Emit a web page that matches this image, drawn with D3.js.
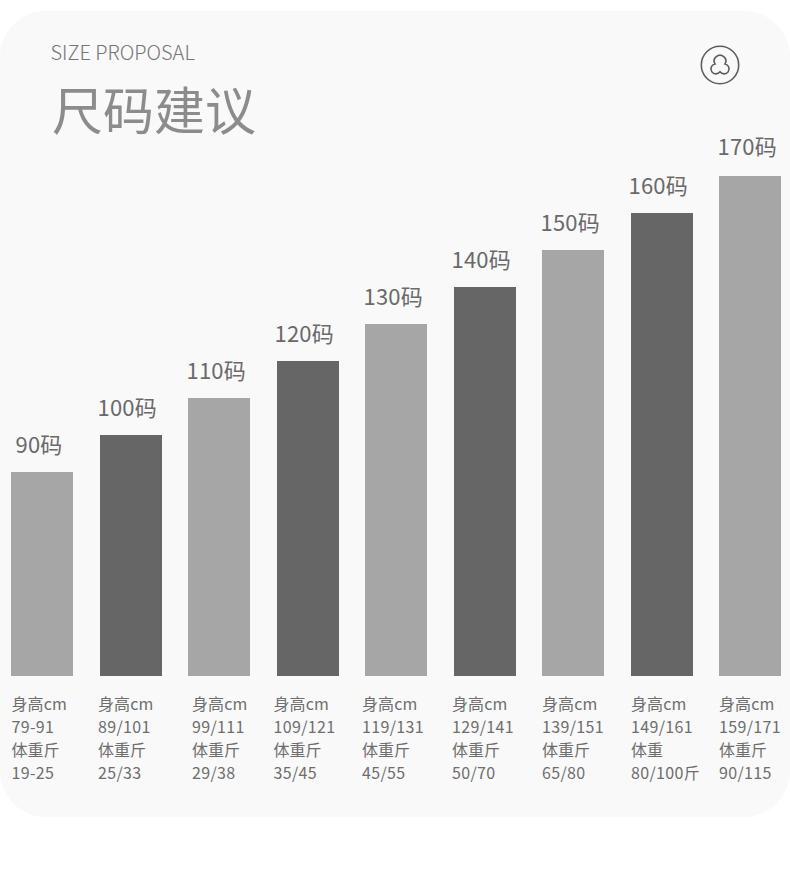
<!DOCTYPE html>
<html><head><meta charset="utf-8">
<script src="https://cdn.jsdelivr.net/npm/d3@7"></script>
<style>html,body{margin:0;padding:0;background:#fff}svg{display:block}text{font-family:"Noto Sans CJK SC","Noto Sans",sans-serif}</style>
</head><body><svg id="c" width="790" height="894"></svg>
<script>
const sizes=[90,100,110,120,130,140,150,160,170];
const sizeLabels=["90码","100码","110码","120码","130码","140码","150码","160码","170码"];
const heightLabel=["身高cm","身高cm","身高cm","身高cm","身高cm","身高cm","身高cm","身高cm","身高cm"];
const heightRanges=["79-91","89/101","99/111","109/121","119/131","129/141","139/151","149/161","159/171"];
const weightLabel=["体重斤","体重斤","体重斤","体重斤","体重斤","体重斤","体重斤","体重","体重斤"];
const weightRanges=["19-25","25/33","29/38","35/45","45/55","50/70","65/80","80/100斤","90/115"];
const barShade=["light","dark","light","dark","light","dark","light","dark","light"];
const labelLeft=[15.5,97.5,186.5,274.5,363.5,451.5,540.5,628.5,717.5];
const labelGap=[19,19,19,19,19,19,19,19,21];
const detailLeft=[11.5,98,192,273.5,362,452,542,631,719];

const svg=d3.select("#c");
svg.append("rect").attr("x",0).attr("y",11).attr("width",790).attr("height",806).attr("rx",46).attr("fill","#f9f9f9");

const x=d3.scaleBand().domain(sizes).range([11,781]).paddingInner(0.2995).paddingOuter(0);
const y=d3.scaleLinear().domain([34.86,170]).range([676,176]);
const color=d3.scaleOrdinal().domain(["light","dark"]).range(["#a6a6a6","#666666"]);

svg.selectAll("rect.bar").data(sizes).join("rect").attr("class","bar")
 .attr("x",d=>Math.round(x(d))).attr("width",62)
 .attr("y",d=>Math.round(y(d))).attr("height",d=>676-Math.round(y(d)))
 .attr("fill",(d,i)=>color(barShade[i]));

svg.selectAll("text.size").data(sizes).join("text").attr("class","size")
 .attr("x",(d,i)=>labelLeft[i]).attr("y",(d,i)=>Math.round(y(d))-labelGap[i])
 .attr("font-size",22).attr("letter-spacing",0.2).attr("font-weight",400).attr("fill","#6a6a6a")
 .text((d,i)=>sizeLabels[i]);

const rows=[heightLabel,heightRanges,weightLabel,weightRanges];
const rowY=[710,733,756,779];
const rowSpacing=[0.1,0.35,0,0.35];
rows.forEach((row,r)=>{
 svg.selectAll("text.r"+r).data(row).join("text").attr("class","r"+r)
  .attr("x",(d,i)=>detailLeft[i]).attr("y",rowY[r]).attr("letter-spacing",rowSpacing[r])
  .attr("font-size",16).attr("font-weight",400).attr("fill","#6e6e6e").text(d=>d);
});

svg.append("text").attr("x",50.5).attr("y",60).attr("font-size",20).attr("font-weight",300).attr("fill","#757575").text("SIZE PROPOSAL");
svg.append("text").attr("x",52).attr("y",130).attr("font-size",51).attr("font-weight",400).attr("fill","#8c8c8c").text("尺码建议");

const icon=svg.append("g").attr("transform","translate(720,65)").attr("fill","none").attr("stroke","#5e5e5e").attr("stroke-width",1.6);
icon.append("circle").attr("r",18.7);
icon.append("path")
 .attr("d","M-5,-1 A5.8,5.8 0 1 1 5,-1 A5,5 0 1 1 0,6.8 A5,5 0 1 1 -5,-1 Z");
</script></body></html>
